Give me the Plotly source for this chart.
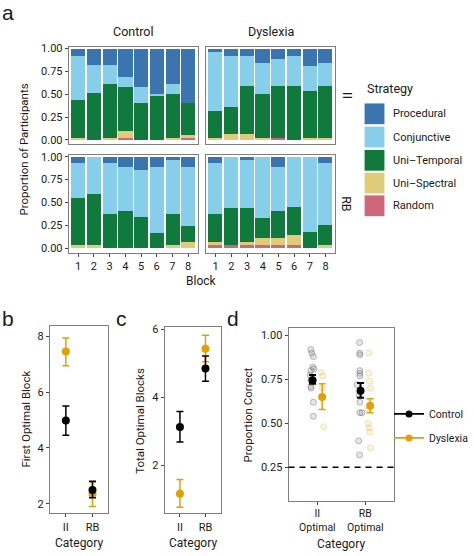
import plotly.graph_objects as go

W, H = 474, 556
FONT = "Roboto, Liberation Sans, Arial, sans-serif"
INK = "#1a1a1a"
BORDER = "#7f7f7f"
TICK = "#444444"

# ---------------- Panel a data ----------------
blocks = [1, 2, 3, 4, 5, 6, 7, 8]
# stacking order: bottom -> top
strategy_names = ["Random", "Uni–Spectral", "Uni–Temporal", "Conjunctive", "Procedural"]
strategy_colors = ["#d0667a", "#dfcb78", "#0f7a3c", "#87ceeb", "#3b75af"]
legend_order = ["Procedural", "Conjunctive", "Uni–Temporal", "Uni–Spectral", "Random"]

control_ii_random = [0, 0, 0, 0.03, 0, 0, 0, 0.03]
control_ii_spectral = [0.03, 0, 0.03, 0.07, 0, 0, 0.03, 0.03]
control_ii_temporal = [0.41, 0.52, 0.59, 0.48, 0.41, 0.48, 0.48, 0.35]
control_ii_conjunctive = [0.48, 0.30, 0.20, 0.11, 0.17, 0.03, 0.11, 0]
control_ii_procedural = [0.08, 0.18, 0.18, 0.31, 0.42, 0.49, 0.38, 0.59]

dyslexia_ii_random = [0, 0, 0, 0, 0.03, 0, 0, 0]
dyslexia_ii_spectral = [0.03, 0.07, 0.07, 0.03, 0, 0, 0.03, 0.03]
dyslexia_ii_temporal = [0.29, 0.29, 0.52, 0.48, 0.56, 0.59, 0.51, 0.56]
dyslexia_ii_conjunctive = [0.64, 0.56, 0.33, 0.34, 0.30, 0.33, 0.27, 0.26]
dyslexia_ii_procedural = [0.04, 0.08, 0.08, 0.15, 0.11, 0.08, 0.19, 0.15]

control_rb_random = [0, 0, 0, 0, 0, 0, 0, 0]
control_rb_spectral = [0.04, 0.04, 0, 0, 0, 0, 0.04, 0.07]
control_rb_temporal = [0.51, 0.55, 0.38, 0.41, 0.34, 0.17, 0.34, 0.17]
control_rb_conjunctive = [0.38, 0.41, 0.55, 0.48, 0.52, 0.72, 0.58, 0.65]
control_rb_procedural = [0.07, 0, 0.07, 0.11, 0.14, 0.11, 0.04, 0.11]

dyslexia_rb_random = [0.04, 0.04, 0.04, 0.04, 0.04, 0.04, 0, 0]
dyslexia_rb_spectral = [0.03, 0, 0.03, 0.07, 0.07, 0.11, 0, 0.04]
dyslexia_rb_temporal = [0.30, 0.40, 0.37, 0.22, 0.30, 0.30, 0.18, 0.22]
dyslexia_rb_conjunctive = [0.56, 0.56, 0.52, 0.67, 0.48, 0.55, 0.82, 0.67]
dyslexia_rb_procedural = [0.07, 0, 0.04, 0, 0.11, 0, 0, 0.07]

# ---------------- Panels b, c data ----------------
categories = ["II", "RB"]
first_block_control = [4.98, 2.49]
first_block_control_lo = [4.45, 2.21]
first_block_control_hi = [5.50, 2.80]
first_block_dyslexia = [7.45, 2.35]
first_block_dyslexia_lo = [6.94, 1.90]
first_block_dyslexia_hi = [7.94, 2.77]

total_blocks_control = [3.12, 4.85]
total_blocks_control_lo = [2.68, 4.47]
total_blocks_control_hi = [3.58, 5.22]
total_blocks_dyslexia = [1.15, 5.43]
total_blocks_dyslexia_lo = [0.75, 5.05]
total_blocks_dyslexia_hi = [1.57, 5.83]

# ---------------- Panel d data ----------------
d_categories = ["II<br>Optimal", "RB<br>Optimal"]
prop_control = [0.745, 0.685]
prop_control_lo = [0.725, 0.645]
prop_control_hi = [0.775, 0.730]
prop_dyslexia = [0.650, 0.600]
prop_dyslexia_lo = [0.578, 0.560]
prop_dyslexia_hi = [0.725, 0.640]
chance_level = 0.25

# individual participants (value, jitter offset)
ind_control_ii = [0.92, 0.90, 0.88, 0.82, 0.81, 0.80, 0.775, 0.745, 0.71, 0.70, 0.62, 0.54]
ind_control_ii_jit = [-0.036, -0.016, 0.016, 0.004, 0.03, -0.036, -0.05, -0.036, -0.036, -0.03, 0.016, 0.016]
ind_dyslexia_ii = [0.79, 0.77, 0.70, 0.48]
ind_dyslexia_ii_jit = [-0.02, 0.01, 0.0, 0.03]
ind_control_rb = [0.96, 0.90, 0.89, 0.80, 0.785, 0.77, 0.72, 0.66, 0.62, 0.56, 0.56, 0.40, 0.32]
ind_control_rb_jit = [-0.02, -0.015, -0.015, -0.015, -0.015, -0.015, -0.07, -0.03, -0.015, -0.015, 0.03, -0.04, -0.02]
ind_dyslexia_rb = [0.90, 0.785, 0.74, 0.70, 0.58, 0.50, 0.475, 0.45, 0.36]
ind_dyslexia_rb_jit = [-0.03, -0.03, -0.01, 0.01, -0.04, -0.04, -0.02, -0.01, 0.01]

ORANGE = "#e69f00"
BLACK = "#000000"


def px_x(x):
    return x / W


def px_y(y):
    return 1 - y / H


def xd(l, r):
    return [l / W, r / W]


def yd(t, b):
    return [1 - b / H, 1 - t / H]


fig = go.Figure()

facets = [
    ("x", "y", [control_ii_random, control_ii_spectral, control_ii_temporal, control_ii_conjunctive, control_ii_procedural]),
    ("x2", "y2", [dyslexia_ii_random, dyslexia_ii_spectral, dyslexia_ii_temporal, dyslexia_ii_conjunctive, dyslexia_ii_procedural]),
    ("x3", "y3", [control_rb_random, control_rb_spectral, control_rb_temporal, control_rb_conjunctive, control_rb_procedural]),
    ("x4", "y4", [dyslexia_rb_random, dyslexia_rb_spectral, dyslexia_rb_temporal, dyslexia_rb_conjunctive, dyslexia_rb_procedural]),
]
for xa, ya, series in facets:
    for name, color, vals in zip(strategy_names, strategy_colors, series):
        fig.add_trace(go.Bar(
            x=blocks, y=vals, name=name, marker=dict(color=color, line=dict(width=0)),
            width=0.9, xaxis=xa, yaxis=ya, showlegend=False,
        ))


def pointrange(xs, ys, lo, hi, color, xa, ya, width=1.5):
    fig.add_trace(go.Scatter(
        x=xs, y=ys, mode="markers", xaxis=xa, yaxis=ya, showlegend=False,
        marker=dict(color=color, size=8),
        error_y=dict(type="data", symmetric=False,
                     array=[h - m for h, m in zip(hi, ys)],
                     arrayminus=[m - l for m, l in zip(ys, lo)],
                     color=color, thickness=width, width=3.5),
    ))


cat_pos = [i + 1 for i in range(len(categories))]

# panel b
pointrange(cat_pos, first_block_dyslexia, first_block_dyslexia_lo, first_block_dyslexia_hi, ORANGE, "x5", "y5")
pointrange(cat_pos, first_block_control, first_block_control_lo, first_block_control_hi, BLACK, "x5", "y5")
# panel c
pointrange(cat_pos, total_blocks_dyslexia, total_blocks_dyslexia_lo, total_blocks_dyslexia_hi, ORANGE, "x6", "y6")
pointrange(cat_pos, total_blocks_control, total_blocks_control_lo, total_blocks_control_hi, BLACK, "x6", "y6")

# panel d individual points
dodge = 0.1
for vals, jit, pos, col, edge in [
    (ind_control_ii, ind_control_ii_jit, 1 - dodge, "rgba(140,140,140,0.22)", "rgba(110,110,110,0.45)"),
    (ind_control_rb, ind_control_rb_jit, 2 - dodge, "rgba(140,140,140,0.22)", "rgba(110,110,110,0.45)"),
    (ind_dyslexia_ii, ind_dyslexia_ii_jit, 1 + dodge, "rgba(230,159,0,0.10)", "rgba(230,159,0,0.28)"),
    (ind_dyslexia_rb, ind_dyslexia_rb_jit, 2 + dodge, "rgba(230,159,0,0.10)", "rgba(230,159,0,0.28)"),
]:
    fig.add_trace(go.Scatter(
        x=[pos + j for j in jit], y=vals, mode="markers", xaxis="x7", yaxis="y7",
        showlegend=False, marker=dict(size=6, color=col, line=dict(color=edge, width=1)),
    ))

pointrange([p - dodge for p in cat_pos], prop_control, prop_control_lo, prop_control_hi, BLACK, "x7", "y7", width=2)
pointrange([p + dodge for p in cat_pos], prop_dyslexia, prop_dyslexia_lo, prop_dyslexia_hi, ORANGE, "x7", "y7", width=1.5)

# legend entries for panel d
for nm, col, grp in [("Control", BLACK, "g1"), ("Dyslexia", ORANGE, "g2")]:
    fig.add_trace(go.Scatter(
        x=[None], y=[None], mode="lines+markers", name=nm, legendgroup=grp,
        line=dict(color=col, width=1.8), marker=dict(color=col, size=7),
        xaxis="x7", yaxis="y7", showlegend=True,
    ))

# ---------------- axes ----------------
base = dict(showline=True, mirror=True, linecolor=BORDER, linewidth=1, showgrid=False,
            zeroline=False, ticks="outside", ticklen=3, tickcolor=TICK, tickwidth=1,
            tickfont=dict(family=FONT, size=11, color=INK), fixedrange=True)

top_y = yd(43, 142)
bot_y = yd(152.5, 251.5)
left_x = xd(71, 204)
right_x = xd(213, 346)

bar_x = dict(base, range=[0.4, 8.6], tickvals=blocks)
bar_y = dict(base, range=[-0.05, 1.02], tickvals=[0, 0.25, 0.5, 0.75, 1.0], tickformat=".2f")

fig.update_layout(
    xaxis=dict(bar_x, domain=left_x, anchor="y", showticklabels=False, ticks=""),
    yaxis=dict(bar_y, domain=top_y, anchor="x"),
    xaxis2=dict(bar_x, domain=right_x, anchor="y2", showticklabels=False, ticks=""),
    yaxis2=dict(bar_y, domain=top_y, anchor="x2", showticklabels=False, ticks=""),
    xaxis3=dict(bar_x, domain=left_x, anchor="y3"),
    yaxis3=dict(bar_y, domain=bot_y, anchor="x3"),
    xaxis4=dict(bar_x, domain=right_x, anchor="y4"),
    yaxis4=dict(bar_y, domain=bot_y, anchor="x4", showticklabels=False, ticks=""),
    xaxis5=dict(base, domain=xd(51.5, 112), anchor="y5", range=[0.4, 2.6], tickvals=cat_pos, ticktext=categories),
    yaxis5=dict(base, domain=yd(326, 515), anchor="x5", range=[1.65, 8.35], tickvals=[2, 4, 6, 8]),
    xaxis6=dict(base, domain=xd(170, 228), anchor="y6", range=[0.4, 2.6], tickvals=cat_pos, ticktext=categories),
    yaxis6=dict(base, domain=yd(327, 515), anchor="x6", range=[0.57, 6.06], tickvals=[2, 4, 6]),
    xaxis7=dict(base, domain=xd(298, 407), anchor="y7", range=[0.4, 2.6], tickvals=cat_pos, ticktext=d_categories,
                tickfont=dict(family=FONT, size=10.5, color=INK)),
    yaxis7=dict(base, domain=yd(328, 502), anchor="x7", range=[0.06, 1.04],
                tickvals=[0.25, 0.5, 0.75, 1.0], tickformat=".2f"),
    barmode="stack",
    bargap=0,
    width=W, height=H,
    margin=dict(l=0, r=0, t=0, b=0),
    paper_bgcolor="white", plot_bgcolor="white",
    font=dict(family=FONT, size=12, color=INK),
    legend=dict(x=px_x(402), y=px_y(426.5), xanchor="left", yanchor="middle",
                font=dict(family=FONT, size=10.5, color=INK), bgcolor="rgba(0,0,0,0)",
                tracegroupgap=5, itemwidth=30, traceorder="grouped"),
)

fig.add_shape(type="line", xref="x7 domain", x0=0, x1=1, yref="y7", y0=chance_level, y1=chance_level,
              line=dict(color=BLACK, width=1.6, dash="6px,5px"))

# ---------------- annotations ----------------
ann = []


def text(x, y, s, size=12, angle=0, xanchor="center", yanchor="middle", color=INK):
    ann.append(dict(x=px_x(x), y=px_y(y), xref="paper", yref="paper", text=s, showarrow=False,
                    font=dict(family=FONT, size=size, color=color), textangle=angle,
                    xanchor=xanchor, yanchor=yanchor))


PANEL_FONT = "Liberation Sans, Arial, sans-serif"
for lbl, x, y in [("a", 8, 9), ("b", 8, 318), ("c", 125, 318), ("d", 241, 318)]:
    ann.append(dict(x=px_x(x), y=px_y(y), xref="paper", yref="paper", text=lbl, showarrow=False,
                    font=dict(family=PANEL_FONT, size=21, color=INK), xanchor="center", yanchor="middle"))

text(137.5, 28, "Control", size=12.5)
text(279.5, 28, "Dyslexia", size=12.5)
text(359, 92.5, "II", size=13, angle=90)
text(358, 202, "RB", size=12.5, angle=90)
text(25, 147, "Proportion of Participants", size=11.5, angle=-90)
text(208, 280, "Block", size=12)

# legend for panel a
text(377, 85, "Strategy", size=12.5, xanchor="left")
key_centers = [111, 134.5, 158, 181, 204]
for name, yc in zip(legend_order, key_centers):
    col = strategy_colors[strategy_names.index(name)]
    fig.add_shape(type="rect", xref="paper", yref="paper",
                  x0=px_x(376.5), x1=px_x(397), y0=px_y(yc + 10.5), y1=px_y(yc - 10.5),
                  line=dict(width=0), fillcolor=col)
    text(404, yc, name, size=11, xanchor="left")

# axis titles for b, c, d
text(27, 420, "First Optimal Block", size=11.5, angle=-90)
text(82, 545, "Category", size=12)
text(145, 421, "Total Optimal Blocks", size=11.5, angle=-90)
text(199, 545, "Category", size=12)
text(256, 415, "Proportion Correct", size=11.5, angle=-90)
text(352, 546, "Category", size=12)

fig.update_layout(annotations=ann)

fig.write_html("out.html", config={"displayModeBar": False},
               post_script="document.body.style.margin='0';document.body.style.overflow='hidden';")
